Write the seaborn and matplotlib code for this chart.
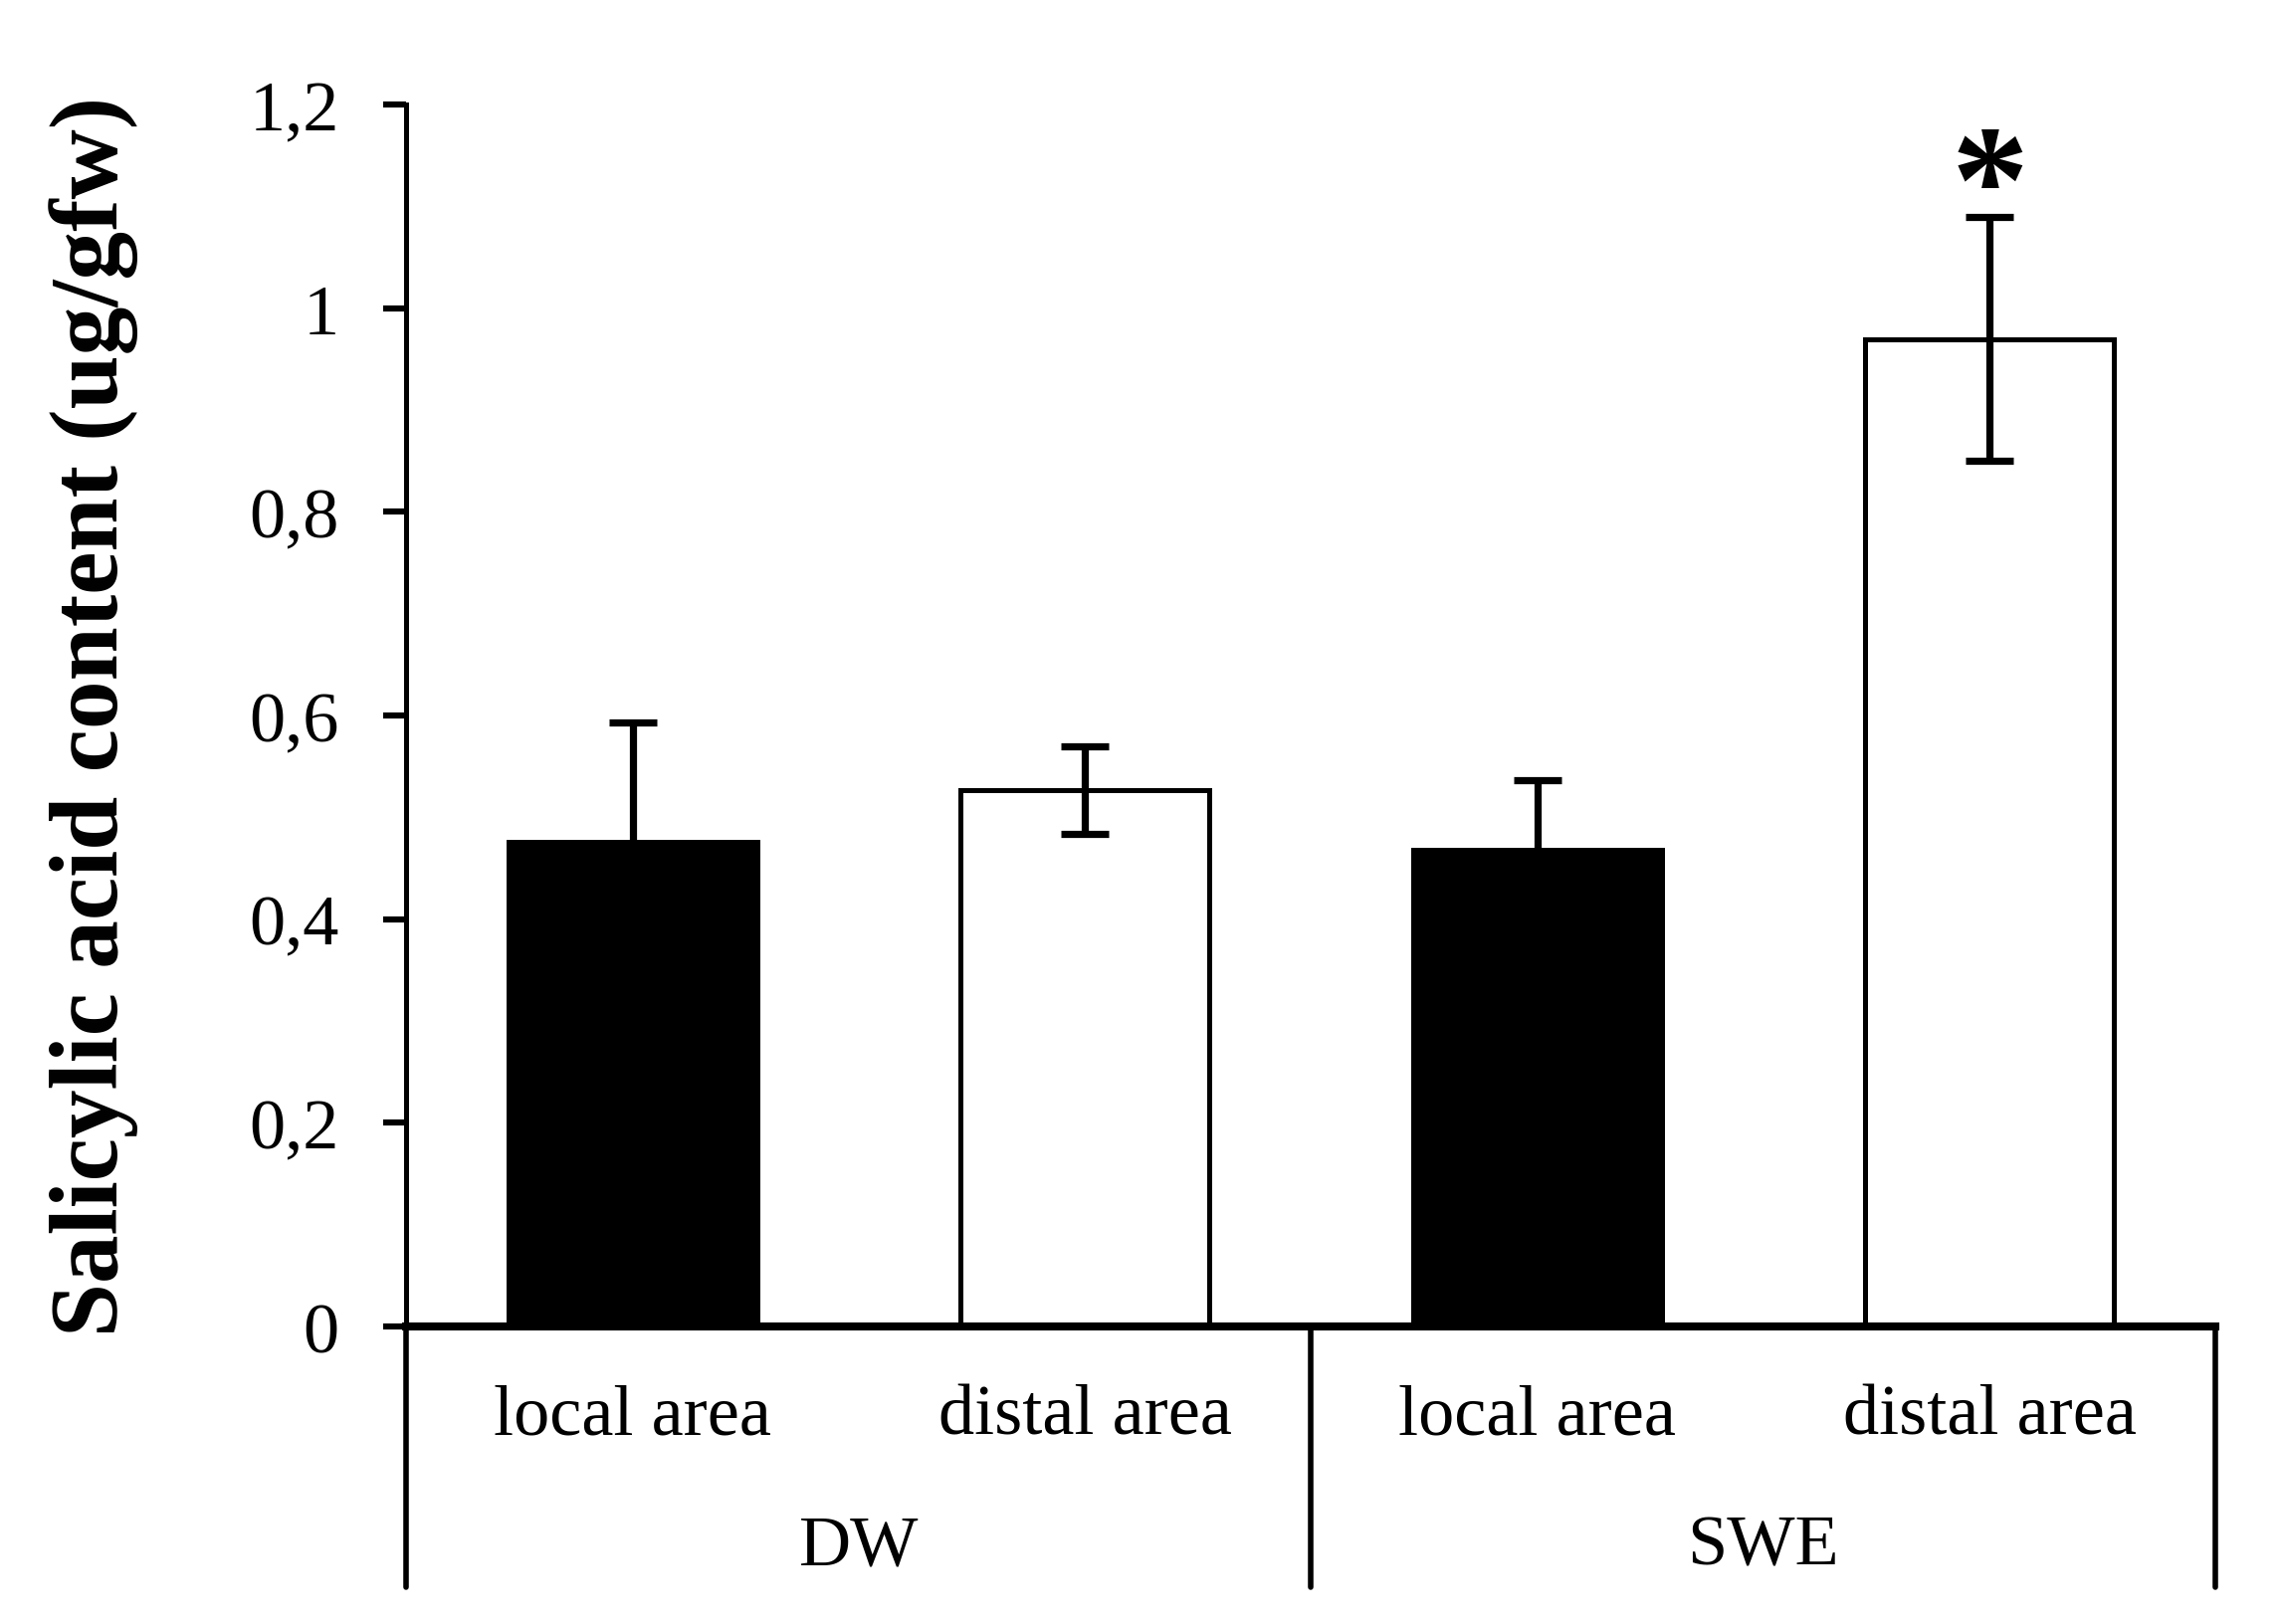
import pandas as pd
import matplotlib
matplotlib.use("Agg")
import matplotlib.pyplot as plt
import matplotlib.transforms as mtransforms
import seaborn as sns

# Data
groups = ["DW", "DW", "SWE", "SWE"]
areas = ["local area", "distal area", "local area", "distal area"]
values = [0.476, 0.527, 0.468, 0.970]
errors = [0.117, 0.043, 0.069, 0.120]
y_ticks = [0, 0.2, 0.4, 0.6, 0.8, 1.0, 1.2]
y_tick_labels = ["0", "0,2", "0,4", "0,6", "0,8", "1", "1,2"]
group_names = ["DW", "SWE"]
significant = [False, False, False, True]

data = pd.DataFrame({
    "label": [g + " " + a for g, a in zip(groups, areas)],
    "group": groups,
    "area": areas,
    "value": values,
    "err": errors,
})

sns.set_style("white")
plt.rcParams["font.family"] = ["Liberation Serif", "DejaVu Serif"]
plt.rcParams["text.color"] = "black"
plt.rcParams["axes.labelcolor"] = "black"
plt.rcParams["ytick.color"] = "black"
plt.rcParams["xtick.color"] = "black"

fig = plt.figure(figsize=(11.47, 8.165), dpi=200)
ax = fig.add_axes([0.178, 0.183, 0.7925, 0.752])

sns.barplot(data=data, x="label", y="value", hue="area",
            palette={"local area": "black", "distal area": "white"},
            dodge=False, width=0.55, edgecolor="black", linewidth=1.8,
            errorbar=None, legend=False, ax=ax)

ax.errorbar(range(len(data)), data["value"], yerr=data["err"], fmt="none",
            ecolor="black", elinewidth=2.6, capsize=8.5, capthick=2.6, zorder=5)

# significance star
for i, (v, e, s) in enumerate(zip(values, errors, significant)):
    if s:
        ax.text(i, v + e - 0.046, "*", ha="center", va="bottom",
                fontsize=56, fontweight="bold")

ax.set_xlim(-0.5, len(data) - 0.5)
ax.set_ylim(0, 1.2)
ax.set_yticks(y_ticks)
ax.set_yticklabels(y_tick_labels)
ax.tick_params(axis="y", direction="out", length=8.3, width=2.2,
               pad=16, labelsize=26, left=True)
ax.set_xticks([])
ax.set_xlabel("")
ax.set_ylabel("Salicylic acid content (ug/gfw)", fontsize=35,
              fontweight="bold", labelpad=40)

for side in ["top", "right"]:
    ax.spines[side].set_visible(False)
ax.spines["left"].set_linewidth(1.8)
ax.spines["bottom"].set_linewidth(2.9)
ax.spines["left"].set_color("black")
ax.spines["bottom"].set_color("black")

# two-level category axis
trans = mtransforms.blended_transform_factory(ax.transData, ax.transAxes)
for i, a in enumerate(areas):
    ax.text(i, -0.073, a, transform=trans, ha="center", va="center", fontsize=26)
for j, g in enumerate(group_names):
    ax.text(2 * j + 0.5, -0.18, g, transform=trans, ha="center", va="center",
            fontsize=26)
for xs in [-0.5, 1.5, 3.5]:
    ax.plot([xs, xs], [0, -0.213], transform=trans, color="black",
            linewidth=2.0, clip_on=False)

fig.savefig("out.png", dpi=200, facecolor="white")
